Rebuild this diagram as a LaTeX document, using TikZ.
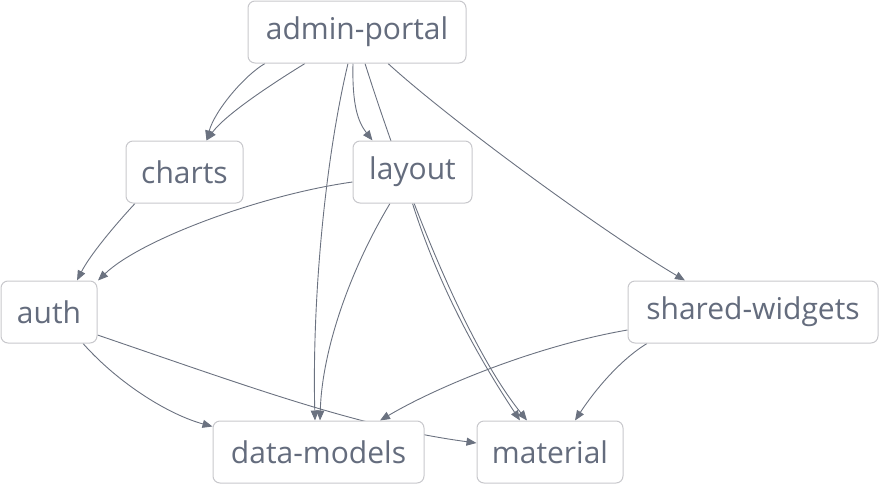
\documentclass[tikz,border=0pt]{standalone}
\usepackage{fontspec}
\setmainfont{Open Sans}
\usetikzlibrary{arrows.meta}
\definecolor{txt}{RGB}{100,108,125}
\definecolor{edge}{RGB}{107,114,128}
\definecolor{bord}{RGB}{200,200,204}
\pgfdeclarelayer{bg}
\pgfsetlayers{bg,main}
\tikzset{
  box/.style={draw=bord, line width=1pt, fill=white, rounded corners=7pt, text=txt,
    font=\fontsize{30}{34}\selectfont, inner sep=0pt, minimum height=62pt, anchor=center},
  dep/.style={draw=edge, line width=0.9pt, -{Triangle[length=10pt,width=8pt]}},
}
\begin{document}
\begin{tikzpicture}[x=1pt,y=-1pt]
\useasboundingbox (0,0) rectangle (879,485);
\node[box, minimum width=218pt] (ap) at (357,32) {admin-portal};
\node[box, minimum width=117pt] (ch) at (184.5,172) {charts};
\node[box, minimum width=119pt] (ly) at (412.5,172) {layout};
\node[box, minimum width=96pt] (au) at (49,312) {auth};
\node[box, minimum width=250pt] (sw) at (753,312) {shared-widgets};
\node[box, minimum width=211pt] (dm) at (318.5,452) {data-models};
\node[box, minimum width=146pt] (ma) at (550,452) {material};
\begin{pgfonlayer}{bg}
\draw[dep] ([xshift=-92pt]ap.south) .. controls (245,75) and (215,110) .. ([xshift=22pt]ch.north);
\draw[dep] ([xshift=-52pt]ap.south) .. controls (270,85) and (225,115) .. ([xshift=22pt]ch.north);
\draw[dep] ([xshift=-4pt]ap.south) .. controls (352,105) and (358,122) .. ([xshift=-40pt]ly.north);
\draw[dep] ([xshift=-9pt]ap.south) .. controls (325,160) and (312,300) .. ([xshift=-3.5pt]dm.north);
\draw[dep] ([xshift=8pt]ap.south) .. controls (403,183) and (463,341) .. ([xshift=-23pt]ma.north);
\draw[dep] ([xshift=31pt]ap.south) .. controls (450,120) and (600,230) .. ([xshift=-68pt]sw.north);
\draw[dep] ([xshift=-49.5pt]ch.south) .. controls (115,225) and (90,255) .. ([xshift=28pt]au.north);
\draw[dep] ([yshift=-10pt]ly.west) .. controls (260,195) and (140,240) .. ([xshift=49pt]au.north);
\draw[dep] ([xshift=-22.5pt]ly.south) .. controls (350,270) and (322,350) .. ([xshift=1.5pt]dm.north);
\draw[dep] (ly.south) .. controls (440,290) and (480,360) .. ([xshift=-30pt]ma.north);
\draw[dep] ([xshift=34pt]au.south) .. controls (120,385) and (170,415) .. ([yshift=-6pt]dm.north west);
\draw[dep] ([yshift=-23pt]au.east) .. controls (247,386) and (357,427) .. ([yshift=9pt]ma.west);
\draw[dep] ([yshift=-18pt]sw.west) .. controls (540,345) and (440,385) .. ([xshift=61.5pt]dm.north);
\draw[dep] ([xshift=-106pt]sw.south) .. controls (620,360) and (595,390) .. ([xshift=25pt]ma.north);
\end{pgfonlayer}
\end{tikzpicture}
\end{document}
